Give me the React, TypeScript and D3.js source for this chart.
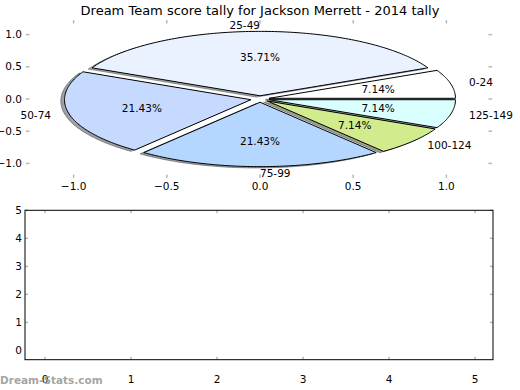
import React from 'react';
import * as d3 from 'd3';

const categories = ['0-24', '25-49', '50-74', '75-99', '100-124', '125-149'];
const counts = [1, 5, 3, 3, 1, 1];
const sliceColors = ['#ffffff', '#eaf2ff', '#c6d9ff', '#b5d7ff', '#d0ec8c', '#d9ffff'];
const explode = [0.05, 0.05, 0.05, 0.05, 0.05, 0.05];
const pieTicks = [-1, -0.5, 0, 0.5, 1];
const lowerTicks = [0, 1, 2, 3, 4, 5];

const title = 'Dream Team score tally for Jackson Merrett - 2014 tally';
const font = 'DejaVu Sans, sans-serif';
const tickGray = '#b8b8b8';

const fmtPie = (v: number) => (v < 0 ? '\u2212' : '') + Math.abs(v).toFixed(1);

const App = () => {
  const W = 520;
  const H = 390;

  // pie axes (aspect not equal, so the pie is squashed)
  const px = d3.scaleLinear().domain([-1.25, 1.25]).range([27, 493]);
  const py = d3.scaleLinear().domain([-1.2, 1.2]).range([176.3, 21.7]);

  // lower empty axes
  const bx = d3.scaleLinear().domain([-0.2326, 5.209]).range([25, 493]);
  const by = d3.scaleLinear().domain([-0.331, 5]).range([359.7, 210.3]);

  const total = d3.sum(counts);
  const fracs = counts.map((c) => c / total);
  const starts = fracs.map((_, i) => d3.sum(fracs.slice(0, i)) * 360);

  const slices = categories.map((cat, i) => {
    const a1 = starts[i];
    const a2 = a1 + fracs[i] * 360;
    const mid = ((a1 + a2) / 2) * (Math.PI / 180);
    const cx = explode[i] * Math.cos(mid);
    const cy = explode[i] * Math.sin(mid);
    const n = Math.max(8, Math.ceil(a2 - a1));
    const pts: [number, number][] = [[cx, cy]];
    d3.range(n + 1).forEach((k) => {
      const t = ((a1 + ((a2 - a1) * k) / n) * Math.PI) / 180;
      pts.push([cx + Math.cos(t), cy + Math.sin(t)]);
    });
    return { cat, i, mid, cx, cy, pts, pct: (fracs[i] * 100).toFixed(2) + '%' };
  });

  const wedge = (dx: number, dy: number) =>
    d3
      .line<[number, number]>()
      .x((d) => px(d[0] + dx))
      .y((d) => py(d[1] + dy));

  const shadowColor = (c: string) => {
    const rgb = d3.rgb(c);
    return d3.rgb(rgb.r * 0.3, rgb.g * 0.3, rgb.b * 0.3).toString();
  };

  // matplotlib picks alignment from the sign of cos(mid); 90deg comes out slightly negative
  const labelAnchor = (mid: number) => {
    const c = Math.cos(mid);
    if (Math.abs(c) < 1e-9) return Math.sin(mid) > 0 ? 'end' : 'start';
    return c > 0 ? 'start' : 'end';
  };

  return (
    <svg width={W} height={H} style={{ position: 'absolute', left: 0, top: 0, background: '#fff' }}>
      <text x={260} y={15} textAnchor="middle" fontFamily={font} fontSize={13} fill="#000">
        {title}
      </text>

      {/* shadows under everything */}
      {slices.map((s) => (
        <path
          key={'sh' + s.i}
          d={(wedge(-0.02, -0.02)(s.pts) || '') + 'Z'}
          fill={shadowColor(sliceColors[s.i])}
          stroke={shadowColor(sliceColors[s.i])}
          fillOpacity={0.5}
          strokeOpacity={0.5}
        />
      ))}
      {slices.map((s) => (
        <path
          key={'w' + s.i}
          d={(wedge(0, 0)(s.pts) || '') + 'Z'}
          fill={sliceColors[s.i]}
          stroke="#000"
          strokeWidth={1}
          strokeLinejoin="miter"
        />
      ))}
      {slices.map((s) => (
        <text
          key={'l' + s.i}
          x={px(s.cx + 1.1 * Math.cos(s.mid))}
          y={py(s.cy + 1.1 * Math.sin(s.mid))}
          dy="0.35em"
          textAnchor={labelAnchor(s.mid)}
          fontFamily={font}
          fontSize={10.5}
        >
          {s.cat}
        </text>
      ))}
      {slices.map((s) => (
        <text
          key={'p' + s.i}
          x={px(s.cx + 0.6 * Math.cos(s.mid))}
          y={py(s.cy + 0.6 * Math.sin(s.mid))}
          dy="0.35em"
          textAnchor="middle"
          fontFamily={font}
          fontSize={10.5}
        >
          {s.pct}
        </text>
      ))}

      {/* pie axes ticks, no frame */}
      {pieTicks.map((t) => (
        <g key={'px' + t}>
          <line x1={px(t)} x2={px(t)} y1={20} y2={23.5} stroke={tickGray} strokeWidth={1.5} />
          <line x1={px(t)} x2={px(t)} y1={174.5} y2={178} stroke={tickGray} strokeWidth={1.5} />
          <text x={px(t)} y={186} dy="0.35em" textAnchor="middle" fontFamily={font} fontSize={10.5}>
            {fmtPie(t)}
          </text>
        </g>
      ))}
      {pieTicks.map((t) => (
        <g key={'py' + t}>
          <line x1={26} x2={29.5} y1={py(t)} y2={py(t)} stroke={tickGray} strokeWidth={1.5} />
          <line x1={488.5} x2={492} y1={py(t)} y2={py(t)} stroke={tickGray} strokeWidth={1.5} />
          <text x={22} y={py(t)} dy="0.35em" textAnchor="end" fontFamily={font} fontSize={10.5}>
            {fmtPie(t)}
          </text>
        </g>
      ))}

      {/* lower axes */}
      {lowerTicks.map((t) => (
        <g key={'bx' + t}>
          <line x1={bx(t)} x2={bx(t)} y1={by.range()[1]} y2={by.range()[1] + 3} stroke={tickGray} strokeWidth={1.5} />
          <line x1={bx(t)} x2={bx(t)} y1={by.range()[0]} y2={by.range()[0] - 3} stroke={tickGray} strokeWidth={1.5} />
          <text x={bx(t)} y={379} dy="0.35em" textAnchor="middle" fontFamily={font} fontSize={10.5}>
            {t}
          </text>
        </g>
      ))}
      {lowerTicks.map((t) => (
        <g key={'by' + t}>
          {t > 0 && (
            <>
              <line x1={25} x2={28} y1={by(t)} y2={by(t)} stroke={tickGray} strokeWidth={1.5} />
              <line x1={493} x2={490} y1={by(t)} y2={by(t)} stroke={tickGray} strokeWidth={1.5} />
            </>
          )}
          <text x={22} y={by(t)} dy="0.35em" textAnchor="end" fontFamily={font} fontSize={10.5}>
            {t}
          </text>
        </g>
      ))}
      <rect x={25} y={210.3} width={468} height={149.4} fill="none" stroke="#000" strokeWidth={1} />

      <text x={0} y={384} fontFamily={font} fontSize={10.5} fontWeight="bold" fill="#999" fillOpacity={0.9}>
        Dream-Stats.com
      </text>
    </svg>
  );
};

export default App;
